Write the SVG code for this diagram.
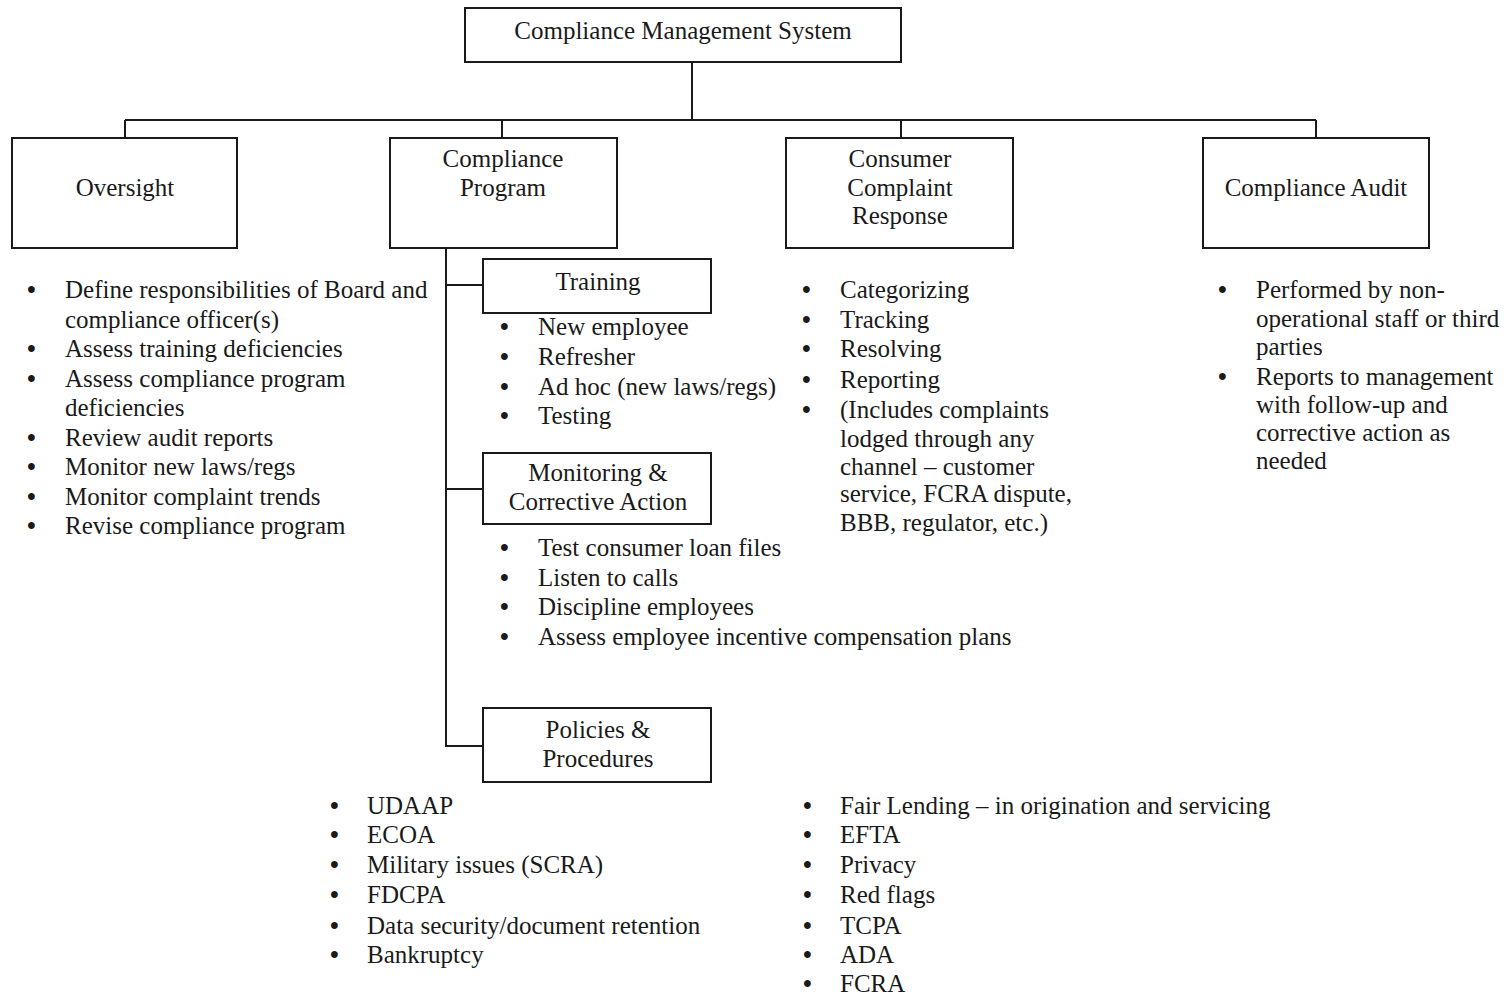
<svg xmlns="http://www.w3.org/2000/svg" width="1507" height="994" viewBox="0 0 1507 994">
<style>
.box{fill:#fff;stroke:#1a1a1a;stroke-width:2}
.ln{fill:none;stroke:#1a1a1a;stroke-width:2}
text{font-family:"Liberation Serif","Times New Roman",serif;font-size:25px;fill:#1a1a1a}
.c{text-anchor:middle}
.b{font-weight:bold}
</style>
<rect width="1507" height="994" fill="#fff"/>
<g id="connectors">
<path class="ln" d="M692 62V120M125 120H1316M125 120V138M502 120V138M901 120V138M1316 120V138"/>
<path class="ln" d="M446 248V746H483M446 285H483M446 489H483"/>
</g>
<g id="cms"><rect class="box" x="465" y="8" width="436" height="54"/><text class="c" x="683" y="39">Compliance Management System</text></g>
<g id="oversight"><rect class="box" x="12" y="138" width="225" height="110"/><text class="c" x="125" y="196">Oversight</text></g>
<g id="program"><rect class="box" x="390" y="138" width="227" height="110"/><text class="c" x="503" y="167">Compliance</text><text class="c" x="503" y="196">Program</text></g>
<g id="complaint"><rect class="box" x="786" y="138" width="227" height="110"/><text class="c" x="900" y="167">Consumer</text><text class="c" x="900" y="196">Complaint</text><text class="c" x="900" y="224">Response</text></g>
<g id="audit"><rect class="box" x="1203" y="138" width="226" height="110"/><text class="c" x="1316" y="196">Compliance Audit</text></g>
<g id="training"><rect class="box" x="483" y="259" width="228" height="54"/><text class="c" x="598" y="290">Training</text></g>
<g id="monitoring"><rect class="box" x="483" y="453" width="228" height="71"/><text class="c" x="598" y="481">Monitoring &amp;</text><text class="c" x="598" y="510">Corrective Action</text></g>
<g id="policies"><rect class="box" x="483" y="708" width="228" height="74"/><text class="c" x="598" y="738">Policies &amp;</text><text class="c" x="598" y="767">Procedures</text></g>
<g id="oversight-list">
<text class="b" x="27" y="298">•</text><text x="65" y="298">Define responsibilities of Board and</text>
<text x="65" y="327.5">compliance officer(s)</text>
<text class="b" x="27" y="357">•</text><text x="65" y="357">Assess training deficiencies</text>
<text class="b" x="27" y="386.5">•</text><text x="65" y="386.5">Assess compliance program</text>
<text x="65" y="416">deficiencies</text>
<text class="b" x="27" y="445.5">•</text><text x="65" y="445.5">Review audit reports</text>
<text class="b" x="27" y="475">•</text><text x="65" y="475">Monitor new laws/regs</text>
<text class="b" x="27" y="504.5">•</text><text x="65" y="504.5">Monitor complaint trends</text>
<text class="b" x="27" y="534">•</text><text x="65" y="534">Revise compliance program</text>
</g>
<g id="training-list">
<text class="b" x="500" y="335">•</text><text x="538" y="335">New employee</text>
<text class="b" x="500" y="365">•</text><text x="538" y="365">Refresher</text>
<text class="b" x="500" y="395">•</text><text x="538" y="395">Ad hoc (new laws/regs)</text>
<text class="b" x="500" y="424">•</text><text x="538" y="424">Testing</text>
</g>
<g id="monitoring-list">
<text class="b" x="500" y="556">•</text><text x="538" y="556">Test consumer loan files</text>
<text class="b" x="500" y="586">•</text><text x="538" y="586">Listen to calls</text>
<text class="b" x="500" y="615">•</text><text x="538" y="615">Discipline employees</text>
<text class="b" x="500" y="645">•</text><text x="538" y="645">Assess employee incentive compensation plans</text>
</g>
<g id="complaint-list">
<text class="b" x="802" y="298">•</text><text x="840" y="298">Categorizing</text>
<text class="b" x="802" y="328">•</text><text x="840" y="328">Tracking</text>
<text class="b" x="802" y="357">•</text><text x="840" y="357">Resolving</text>
<text class="b" x="802" y="388">•</text><text x="840" y="388">Reporting</text>
<text class="b" x="802" y="418">•</text><text x="840" y="418">(Includes complaints</text>
<text x="840" y="447">lodged through any</text>
<text x="840" y="475">channel – customer</text>
<text x="840" y="502">service, FCRA dispute,</text>
<text x="840" y="531">BBB, regulator, etc.)</text>
</g>
<g id="audit-list">
<text class="b" x="1218" y="298">•</text><text x="1256" y="298">Performed by non-</text>
<text x="1256" y="327">operational staff or third</text>
<text x="1256" y="355">parties</text>
<text class="b" x="1218" y="385">•</text><text x="1256" y="385">Reports to management</text>
<text x="1256" y="413">with follow-up and</text>
<text x="1256" y="441">corrective action as</text>
<text x="1256" y="469">needed</text>
</g>
<g id="policies-list-left">
<text class="b" x="330" y="814">•</text><text x="367" y="814">UDAAP</text>
<text class="b" x="330" y="843">•</text><text x="367" y="843">ECOA</text>
<text class="b" x="330" y="873">•</text><text x="367" y="873">Military issues (SCRA)</text>
<text class="b" x="330" y="903">•</text><text x="367" y="903">FDCPA</text>
<text class="b" x="330" y="934">•</text><text x="367" y="934">Data security/document retention</text>
<text class="b" x="330" y="963">•</text><text x="367" y="963">Bankruptcy</text>
</g>
<g id="policies-list-right">
<text class="b" x="803" y="814">•</text><text x="840" y="814">Fair Lending – in origination and servicing</text>
<text class="b" x="803" y="843">•</text><text x="840" y="843">EFTA</text>
<text class="b" x="803" y="873">•</text><text x="840" y="873">Privacy</text>
<text class="b" x="803" y="903">•</text><text x="840" y="903">Red flags</text>
<text class="b" x="803" y="934">•</text><text x="840" y="934">TCPA</text>
<text class="b" x="803" y="963">•</text><text x="840" y="963">ADA</text>
<text class="b" x="803" y="992">•</text><text x="840" y="992">FCRA</text>
</g>
</svg>
